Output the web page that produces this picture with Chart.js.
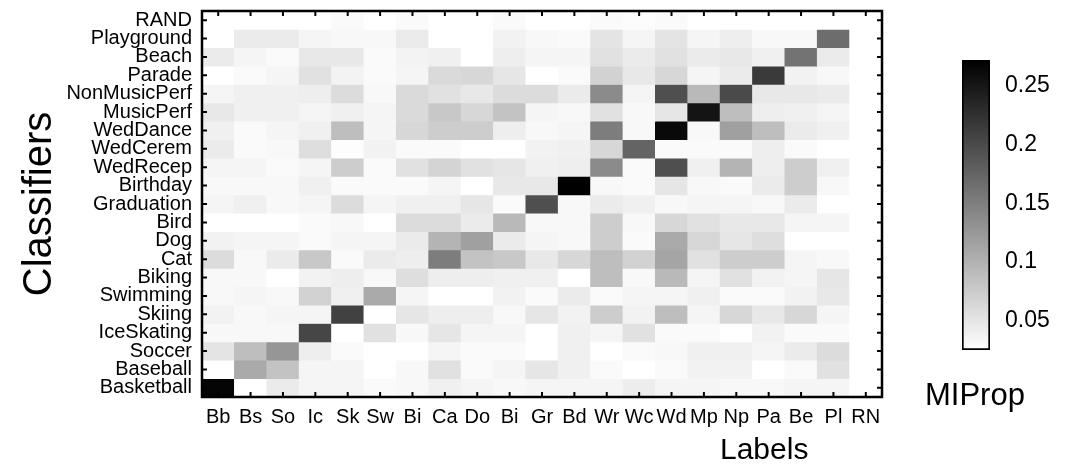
<!DOCTYPE html>
<html><head><meta charset="utf-8">
<script src="https://cdn.jsdelivr.net/npm/chart.js@4.4.0/dist/chart.umd.min.js"></script>
<style>
html,body{margin:0;padding:0;background:#fff;}
#wrap{position:relative;width:1085px;height:466px;overflow:hidden;font-family:"Liberation Sans",Arial,Helvetica,sans-serif;}
#main{position:absolute;left:0;top:0;}
#cbar{position:absolute;left:940px;top:40px;}
.t{position:absolute;line-height:1;white-space:nowrap;color:#000;}
</style></head><body>
<div id="wrap">
<canvas id="main" width="1085" height="466"></canvas>
<canvas id="cbar" width="145" height="330"></canvas>
<div class="t" id="xt" style="left:720px;top:434px;font-size:30px;">Labels</div>
<div class="t" id="ct" style="left:925px;top:379px;font-size:31px;">MIProp</div>
</div>
<script>
const classifiers = ['RAND','Playground','Beach','Parade','NonMusicPerf','MusicPerf','WedDance','WedCerem','WedRecep','Birthday','Graduation','Bird','Dog','Cat','Biking','Swimming','Skiing','IceSkating','Soccer','Baseball','Basketball'];
const labelCodes = ['Bb','Bs','So','Ic','Sk','Sw','Bi','Ca','Do','Bi','Gr','Bd','Wr','Wc','Wd','Mp','Np','Pa','Be','Pl','RN'];
// rows in the same order as classifiers (top to bottom), columns in labelCodes order
const miProp = [
 [0.02,0.02,0.02,0.02,0.03,0.02,0.03,0.02,0.02,0.03,0.02,0.02,0.03,0.028,0.03,0.02,0.02,0.02,0.02,0.02,0.02],
 [0.02,0.044,0.044,0.035,0.032,0.032,0.044,0.02,0.02,0.038,0.032,0.03,0.051,0.035,0.051,0.035,0.041,0.032,0.032,0.166,0.02],
 [0.044,0.035,0.03,0.047,0.047,0.03,0.037,0.04,0.02,0.041,0.035,0.035,0.054,0.044,0.054,0.044,0.047,0.04,0.161,0.044,0.02],
 [0.02,0.03,0.035,0.054,0.037,0.03,0.035,0.061,0.064,0.049,0.02,0.03,0.069,0.047,0.064,0.035,0.044,0.216,0.038,0.032,0.02],
 [0.035,0.04,0.04,0.041,0.059,0.032,0.061,0.054,0.047,0.059,0.059,0.044,0.137,0.035,0.195,0.093,0.2,0.047,0.047,0.044,0.02],
 [0.047,0.04,0.04,0.035,0.04,0.035,0.061,0.078,0.064,0.083,0.035,0.032,0.054,0.032,0.049,0.253,0.088,0.041,0.04,0.035,0.02],
 [0.04,0.03,0.035,0.04,0.088,0.035,0.064,0.073,0.073,0.041,0.032,0.035,0.151,0.032,0.263,0.032,0.117,0.088,0.044,0.04,0.02],
 [0.044,0.03,0.032,0.057,0.027,0.038,0.03,0.03,0.02,0.02,0.038,0.04,0.064,0.175,0.03,0.03,0.03,0.041,0.03,0.02,0.02],
 [0.035,0.035,0.03,0.035,0.073,0.03,0.054,0.067,0.054,0.049,0.04,0.041,0.137,0.03,0.195,0.04,0.098,0.041,0.073,0.04,0.02],
 [0.032,0.032,0.032,0.04,0.03,0.03,0.03,0.035,0.02,0.047,0.047,0.272,0.032,0.03,0.049,0.032,0.03,0.044,0.073,0.032,0.02],
 [0.035,0.04,0.032,0.035,0.059,0.035,0.04,0.04,0.049,0.03,0.195,0.032,0.044,0.04,0.032,0.035,0.035,0.032,0.044,0.02,0.02],
 [0.02,0.02,0.02,0.03,0.032,0.02,0.059,0.059,0.044,0.093,0.032,0.032,0.073,0.032,0.064,0.054,0.047,0.047,0.035,0.035,0.02],
 [0.038,0.035,0.035,0.03,0.035,0.035,0.044,0.098,0.117,0.044,0.035,0.032,0.073,0.03,0.107,0.064,0.049,0.057,0.02,0.02,0.02],
 [0.059,0.032,0.044,0.078,0.03,0.044,0.041,0.151,0.083,0.078,0.047,0.064,0.088,0.069,0.112,0.054,0.073,0.073,0.035,0.032,0.02],
 [0.032,0.032,0.02,0.038,0.041,0.032,0.057,0.041,0.041,0.04,0.04,0.02,0.088,0.032,0.093,0.035,0.054,0.038,0.035,0.049,0.02],
 [0.032,0.035,0.032,0.069,0.04,0.107,0.035,0.02,0.02,0.038,0.03,0.044,0.03,0.035,0.035,0.04,0.03,0.03,0.038,0.047,0.02],
 [0.038,0.032,0.035,0.035,0.209,0.02,0.049,0.041,0.041,0.032,0.049,0.038,0.073,0.038,0.088,0.035,0.064,0.047,0.064,0.035,0.02],
 [0.032,0.032,0.032,0.204,0.02,0.054,0.032,0.049,0.035,0.035,0.02,0.04,0.035,0.054,0.03,0.03,0.02,0.038,0.03,0.03,0.02],
 [0.051,0.088,0.127,0.041,0.03,0.02,0.02,0.035,0.03,0.03,0.02,0.04,0.02,0.03,0.032,0.04,0.04,0.035,0.044,0.059,0.02],
 [0.02,0.107,0.083,0.035,0.035,0.02,0.032,0.054,0.03,0.035,0.049,0.04,0.03,0.02,0.03,0.038,0.038,0.02,0.03,0.054,0.02],
 [0.267,0.02,0.044,0.035,0.035,0.03,0.032,0.04,0.035,0.032,0.035,0.035,0.035,0.042,0.035,0.035,0.032,0.032,0.035,0.035,0.02]
];
const colorTicks = [0.05, 0.1, 0.15, 0.2, 0.25];
const vMin = 0.025, vMax = 0.272;

const FONT = '"Liberation Sans", Arial, Helvetica, sans-serif';
function gray(v){
  let t = (vMax - v) / (vMax - vMin);
  t = Math.max(0, Math.min(1, t));
  const g = Math.round(255 * t);
  return 'rgb(' + g + ',' + g + ',' + g + ')';
}
const nRows = classifiers.length;
const datasets = miProp.map((row, r) => {
  const k = nRows - 1 - r; // bottom row is 0 on the linear axis
  return {
    data: row.map(() => [k, k + 1]),
    backgroundColor: row.map(gray),
    borderWidth: 0,
    grouped: false,
    barPercentage: 1,
    categoryPercentage: 1,
    yAxisID: 'y'
  };
});

function noPad(s){ s.paddingTop = 0; s.paddingBottom = 0; s.paddingLeft = 0; s.paddingRight = 0; }

const frame = {
  id: 'frame',
  afterDatasetsDraw(chart){
    const {ctx, chartArea: a, scales} = chart;
    ctx.save();
    ctx.strokeStyle = '#000';
    ctx.lineWidth = 2;
    ctx.beginPath();
    scales.x.ticks.forEach((t, i) => {
      const x = scales.x.getPixelForTick(i);
      ctx.moveTo(x, a.bottom); ctx.lineTo(x, a.bottom - 5);
      ctx.moveTo(x, a.top); ctx.lineTo(x, a.top + 5);
    });
    scales.yl.ticks.forEach((t, i) => {
      const y = scales.yl.getPixelForTick(i);
      ctx.moveTo(a.left, y); ctx.lineTo(a.left + 5, y);
      ctx.moveTo(a.right, y); ctx.lineTo(a.right - 5, y);
    });
    ctx.stroke();
    ctx.lineWidth = 2.5;
    ctx.strokeRect(a.left, a.top, a.right - a.left, a.bottom - a.top);
    ctx.restore();
  }
};

new Chart(document.getElementById('main'), {
  type: 'bar',
  data: { labels: labelCodes, datasets },
  plugins: [frame],
  options: {
    responsive: false, animation: false, events: [],
    layout: { padding: { left: 0, top: 11, right: 203, bottom: 0 } },
    plugins: { legend: { display: false }, tooltip: { enabled: false } },
    scales: {
      x: {
        type: 'category', offset: true,
        grid: { display: false, drawTicks: false }, border: { display: false },
        ticks: { font: { family: FONT, size: 20 }, color: '#000', padding: 8, maxRotation: 0, autoSkip: false },
        afterFit(s){ s.height = 69; noPad(s); }
      },
      y: { type: 'linear', min: 0, max: nRows, display: false },
      yl: {
        type: 'category', position: 'left', labels: classifiers, offset: true,
        grid: { display: false, drawTicks: false }, border: { display: false },
        ticks: { font: { family: FONT, size: 20 }, color: '#000', padding: 10, autoSkip: false },
        title: { display: true, text: 'Classifiers', font: { family: FONT, size: 40 }, color: '#000', padding: { top: 16, bottom: 0 } },
        afterFit(s){ s.width = 202; noPad(s); }
      }
    }
  }
});

new Chart(document.getElementById('cbar'), {
  type: 'bar',
  data: {
    labels: ['MIProp'],
    datasets: [{
      data: [[vMin, vMax]],
      backgroundColor(c){
        const a = c.chart.chartArea;
        if (!a) return '#888';
        const g = c.chart.ctx.createLinearGradient(0, a.bottom, 0, a.top);
        g.addColorStop(0, '#ffffff');
        g.addColorStop(1, '#000000');
        return g;
      },
      borderColor: '#000', borderWidth: 2, borderSkipped: false,
      barPercentage: 1, categoryPercentage: 1
    }]
  },
  options: {
    responsive: false, animation: false, events: [],
    layout: { padding: { left: 22, top: 20, bottom: 20, right: 0 } },
    plugins: { legend: { display: false }, tooltip: { enabled: false } },
    scales: {
      x: { display: false },
      y: {
        position: 'right', min: vMin, max: vMax,
        afterBuildTicks(s){ s.ticks = colorTicks.map(v => ({ value: v })); },
        ticks: { font: { family: FONT, size: 23 }, color: '#000', padding: 15, callback: v => String(+Number(v).toFixed(2)) },
        grid: { display: false, drawTicks: false }, border: { display: false },
        afterFit(s){ s.width = 95; noPad(s); }
      }
    }
  }
});
</script>
</body></html>
